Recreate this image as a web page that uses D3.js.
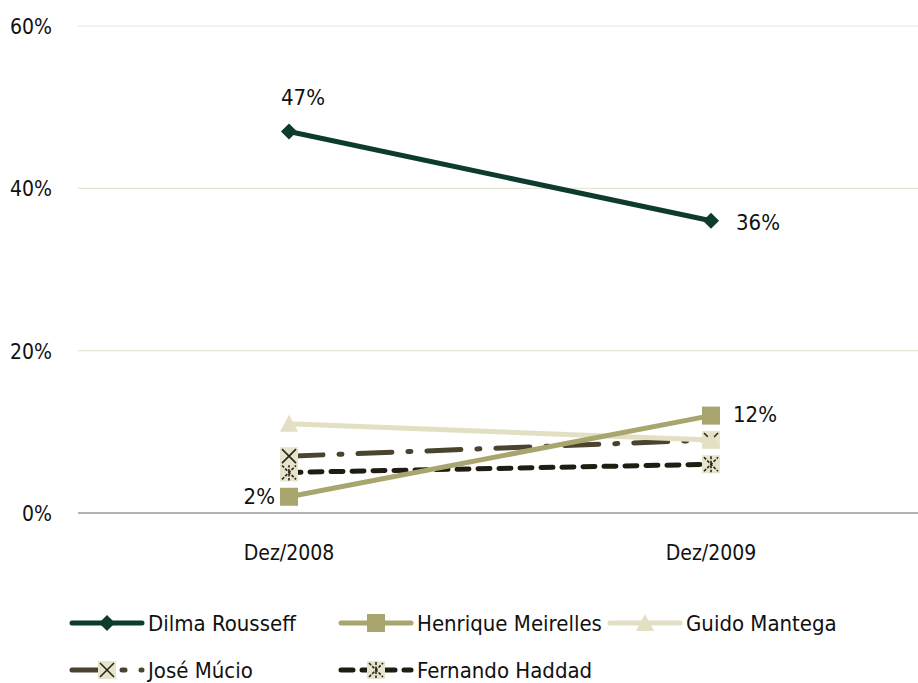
<!DOCTYPE html>
<html>
<head>
<meta charset="utf-8">
<script src="https://cdn.jsdelivr.net/npm/d3@7"></script>
<style>
  body { margin: 0; background: #fff; }
  svg text { font-family: "Liberation Sans Narrow", "DejaVu Sans Condensed", "Roboto Condensed", sans-serif; fill: #111; }
</style>
</head>
<body>
<svg width="918" height="683"></svg>
<script>
// data
var periods = ["Dez/2008", "Dez/2009"];
var names = ["Dilma Rousseff", "Henrique Meirelles", "Guido Mantega", "José Múcio", "Fernando Haddad"];
var dilma = [47, 36];
var meirelles = [2, 12];
var mantega = [11, 9];
var mucio = [7, 9];
var haddad = [5, 6];
var yTicks = [0, 20, 40, 60];

var styles = [
  { color: "#0d3b2e", dash: null, marker: "diamond" },
  { color: "#a9a56e", dash: null, marker: "square" },
  { color: "#e2dfc3", dash: null, marker: "triangle" },
  { color: "#4a4330", dash: "34,16,3,16", marker: "x" },
  { color: "#1f1c12", dash: "12,9", marker: "star" }
];

var series = [dilma, meirelles, mantega, mucio, haddad].map(function (v, i) {
  return { name: names[i], values: v, style: styles[i] };
});

var margin = { top: 26, right: 0, bottom: 170, left: 78 };
var width = 918 - margin.left - margin.right;
var height = 683 - margin.top - margin.bottom;

var svg = d3.select("svg");
var g = svg.append("g").attr("transform", "translate(" + margin.left + "," + margin.top + ")");

var x = d3.scaleBand().domain(periods).range([0, width + 4]);
var y = d3.scaleLinear().domain([0, 60]).range([height, 0]);

// grid
g.selectAll("line.grid")
  .data(yTicks.filter(function (d) { return d > 0; }))
  .enter()
  .append("line")
  .attr("x1", 0).attr("x2", width)
  .attr("y1", function (d) { return y(d); })
  .attr("y2", function (d) { return y(d); })
  .attr("stroke", "#e6e5d6")
  .attr("stroke-width", 1.2);

g.append("line")
  .attr("x1", 0).attr("x2", width)
  .attr("y1", y(0)).attr("y2", y(0))
  .attr("stroke", "#9a9a9a")
  .attr("stroke-width", 1.5);

// y axis labels
var yAxis = d3.axisLeft(y).tickValues(yTicks).tickSize(0).tickPadding(26)
  .tickFormat(function (d) { return d + "%"; });
g.append("g").call(yAxis)
  .call(function (s) { s.select(".domain").remove(); })
  .selectAll("text")
  .attr("font-size", 21)
  .attr("dy", "0.35em");

// x axis labels
var xAxis = d3.axisBottom(x).tickSize(0).tickPadding(32);
g.append("g").attr("transform", "translate(0," + height + ")").call(xAxis)
  .call(function (s) { s.select(".domain").remove(); })
  .selectAll("text")
  .attr("font-size", 21);

function cx(i) { return x(periods[i]) + x.bandwidth() / 2; }

var line = d3.line()
  .x(function (d, i) { return cx(i); })
  .y(function (d) { return y(d); });

function drawMarker(sel, st, px, py) {
  var m = st.marker;
  if (m === "diamond") {
    sel.append("path")
      .attr("d", d3.symbol().type(d3.symbolSquare).size(130)())
      .attr("transform", "translate(" + px + "," + py + ") rotate(45)")
      .attr("fill", st.color);
  } else if (m === "square") {
    sel.append("rect")
      .attr("x", px - 9).attr("y", py - 9).attr("width", 18).attr("height", 18)
      .attr("fill", st.color);
  } else if (m === "triangle") {
    sel.append("path")
      .attr("d", "M" + (px - 9) + "," + (py + 8) + "L" + px + "," + (py - 9) + "L" + (px + 9) + "," + (py + 8) + "Z")
      .attr("fill", st.color);
  } else {
    sel.append("rect")
      .attr("x", px - 9).attr("y", py - 9).attr("width", 18).attr("height", 18)
      .attr("fill", "#e6e4cd");
    var k = sel.append("g").attr("stroke", "#2a2618").attr("stroke-width", 1.6);
    k.append("line").attr("x1", px - 7).attr("y1", py + 7).attr("x2", px + 7).attr("y2", py - 7);
    k.append("line").attr("x1", px - 7).attr("y1", py - 7).attr("x2", px + 7).attr("y2", py + 7);
    if (m === "star") {
      k.attr("stroke-dasharray", "3,1.5");
      k.append("line").attr("x1", px).attr("y1", py - 8).attr("x2", px).attr("y2", py + 8);
    }
  }
}

// draw series from back to front
series.slice().reverse().forEach(function (s) {
  var sg = g.append("g");
  sg.append("path")
    .datum(s.values)
    .attr("d", line)
    .attr("fill", "none")
    .attr("stroke", s.style.color)
    .attr("stroke-width", 5)
    .attr("stroke-linecap", "round")
    .attr("stroke-dasharray", s.style.dash);
  s.values.forEach(function (v, i) {
    drawMarker(sg, s.style, cx(i), y(v));
  });
});

// data labels
var labels = [
  { v: dilma[0], i: 0, dx: 14, dy: -27, anchor: "middle" },
  { v: dilma[1], i: 1, dx: 25, dy: 9, anchor: "start" },
  { v: meirelles[0], i: 0, dx: -14, dy: 7, anchor: "end" },
  { v: meirelles[1], i: 1, dx: 22, dy: 6, anchor: "start" }
];
g.selectAll("text.lbl")
  .data(labels)
  .enter()
  .append("text")
  .attr("class", "lbl")
  .attr("x", function (d) { return cx(d.i) + d.dx; })
  .attr("y", function (d) { return y(d.v) + d.dy; })
  .attr("text-anchor", function (d) { return d.anchor; })
  .attr("font-size", 22)
  .text(function (d) { return d.v + "%"; });

// legend
var legPos = [[72, 623], [341, 623], [610, 623], [72, 670], [341, 670]];
var leg = svg.append("g");
series.forEach(function (s, i) {
  var lx = legPos[i][0], ly = legPos[i][1];
  var it = leg.append("g");
  it.append("line")
    .attr("x1", lx).attr("x2", lx + 70)
    .attr("y1", ly).attr("y2", ly)
    .attr("stroke", s.style.color)
    .attr("stroke-width", 5)
    .attr("stroke-linecap", "round")
    .attr("stroke-dasharray", s.style.dash);
  drawMarker(it, s.style, lx + 35, ly);
  it.append("text")
    .attr("x", lx + 76)
    .attr("y", ly)
    .attr("dy", "0.35em")
    .attr("font-size", 22)
    .text(s.name);
});
</script>
</body>
</html>
